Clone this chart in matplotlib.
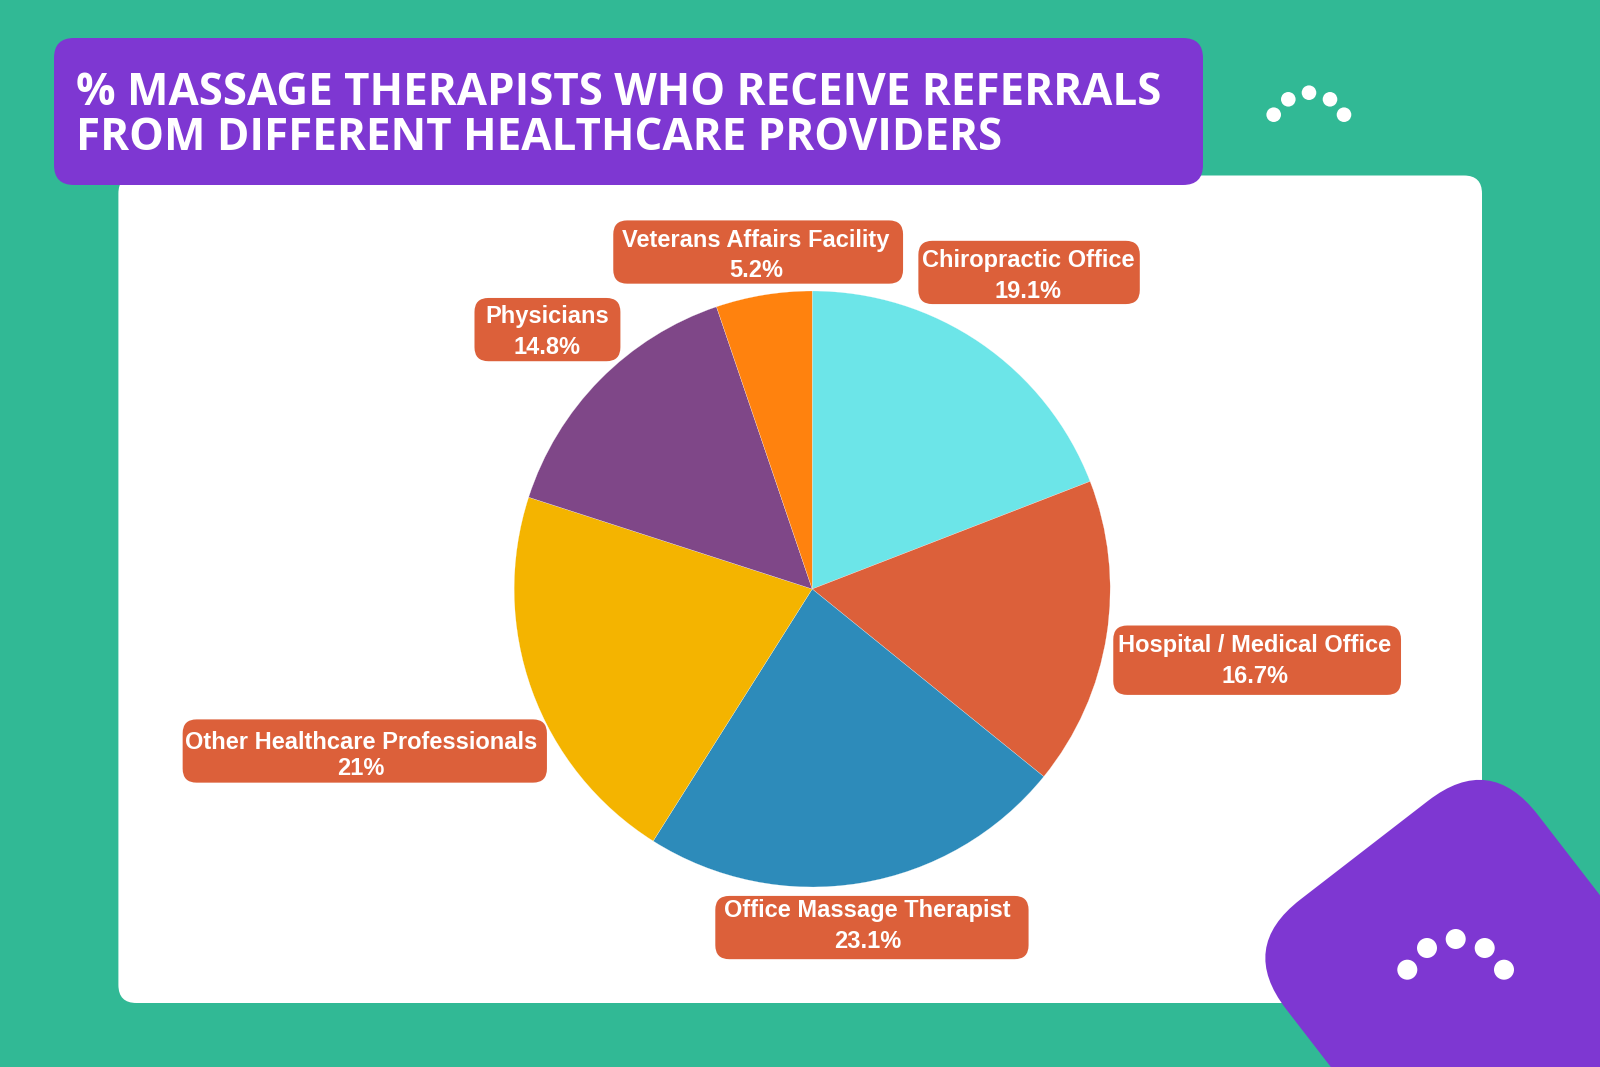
import matplotlib
matplotlib.use("Agg")
import matplotlib.pyplot as plt
from matplotlib.patches import FancyBboxPatch, Circle
from matplotlib.transforms import Affine2D

categories = ["Chiropractic Office", "Hospital / Medical Office", "Office Massage Therapist",
              "Other Healthcare Professionals", "Physicians", "Veterans Affairs Facility"]
values = [19.1, 16.7, 23.1, 21, 14.8, 5.2]
value_labels = ["19.1%", "16.7%", "23.1%", "21%", "14.8%", "5.2%"]
slice_colors = ["#6CE5E8", "#DC603A", "#2D8BBA", "#F4B400", "#7F4788", "#FF820E"]
title_lines = ["% MASSAGE THERAPISTS WHO RECEIVE REFERRALS", "FROM DIFFERENT HEALTHCARE PROVIDERS"]

GREEN, PURPLE, ORANGE = "#31B995", "#7E37D2", "#DC603A"
S = 1600 / 1568

# label box (x0, x1, y0, y1), text centre x, line 1 y, line 2 y -- in reference display pixels
label_layout = [
    (900, 1117, 236, 298, 1007.5, 255.5, 285.5),
    (1091, 1373, 613, 681, 1229.5, 632.5, 662.5),
    (701, 1008, 878, 940, 850, 892.5, 922.5),
    (179, 536, 705, 767, 353.5, 727.5, 753),
    (465, 608, 292, 354, 536.5, 310.5, 340.5),
    (601, 885, 216, 278, 741, 235.5, 265.5),
]

fig = plt.figure(figsize=(16, 10.67), dpi=100, facecolor=GREEN)
W, H = 1600, 1067

def px_axes(z):
    a = fig.add_axes([0, 0, 1, 1], zorder=z)
    a.set_xlim(0, W)
    a.set_ylim(H, 0)
    a.axis("off")
    a.patch.set_alpha(0)
    return a

def rbox(a, x0, y0, x1, y1, r, color, **kw):
    a.add_patch(FancyBboxPatch((x0, y0), x1 - x0, y1 - y0,
                               boxstyle=f"round,pad=0,rounding_size={r}",
                               fc=color, ec="none", **kw))

back = px_axes(0)
rbox(back, 118.4, 175.5, 1482, 1003, 18, "white")
rbox(back, 54, 38, 1203, 185, 20, PURPLE)
for i, line in enumerate(title_lines):
    back.text(76.5, [105, 149.5][i], line, color="white", fontsize=31.55, fontweight="bold",
              family="Open Sans", ha="left", va="baseline")

blob = FancyBboxPatch((0, 0), 318, 500, boxstyle="round,pad=0,rounding_size=78",
                      fc=PURPLE, ec="none",
                      transform=Affine2D().rotate_deg(-37.7).translate(1238.4, 947.4) + back.transData)
back.add_patch(blob)

for (x, y) in [(1407.3, 969.7), (1427, 948), (1455.7, 939), (1484.7, 948), (1504, 969.7)]:
    back.add_patch(Circle((x, y), 10, fc="white", ec="none"))
for (x, y) in [(1273.7, 114.7), (1288.3, 99.3), (1309, 92.7), (1330, 99.3), (1344, 114.7)]:
    back.add_patch(Circle((x, y), 7.3, fc="white", ec="none"))

# pie
cx, cy, R = 812.2, 589, 298
pie_ax = fig.add_axes([(cx - R) / W, 1 - (cy + R) / H, 2 * R / W, 2 * R / H], zorder=1)
pie_ax.pie(values, colors=slice_colors, startangle=90, counterclock=False, radius=1,
           wedgeprops=dict(edgecolor="white", linewidth=0.15))
pie_ax.set_xlim(-1, 1)
pie_ax.set_ylim(-1, 1)
pie_ax.patch.set_alpha(0)

front = px_axes(2)
for name, val, (x0, x1, y0, y1, tx, ty1, ty2) in zip(categories, value_labels, label_layout):
    rbox(front, x0 * S, y0 * S, x1 * S, y1 * S, 14, ORANGE)
    for t, ty in ((name, ty1), (val, ty2)):
        front.text(tx * S, ty * S, t, color="white", fontsize=17, fontweight="bold",
                   family="Liberation Sans", ha="center", va="center")

fig.savefig("out.png", dpi=100, facecolor=GREEN)
